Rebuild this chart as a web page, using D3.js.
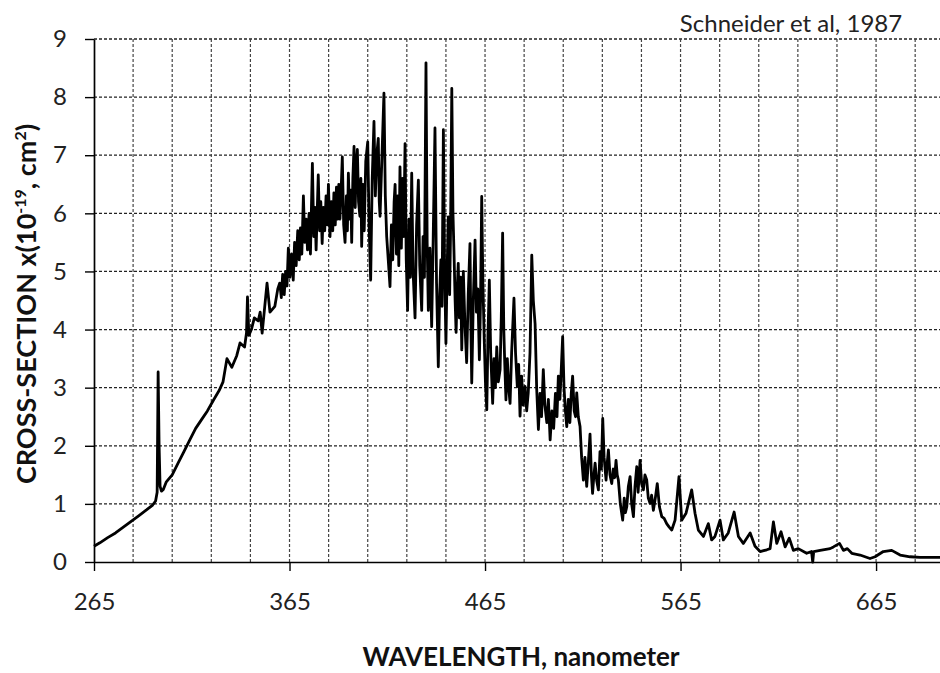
<!DOCTYPE html>
<html lang="en">
<head>
<meta charset="UTF-8">
<script src="https://cdnjs.cloudflare.com/ajax/libs/d3/7.9.0/d3.min.js"></script>
<title>NO3 cross-section</title>
<style>
    body { margin: 0; padding: 0; background: #fff; }
    svg { display: block; font-family: Lato, "Open Sans", sans-serif; }
</style>
</head>
<body>
<svg id="chart" width="940" height="673"></svg>
<script>
// [wavelength nm, cross-section 1e-19 cm2]
const risePart = [
    [265, 0.27], [268, 0.33], [272, 0.42], [276, 0.5], [280, 0.6], [284, 0.7], [288, 0.8], [292, 0.9],
    [295, 0.98], [296.5, 1.05], [297.3, 1.2], [297.8, 3.27], [298.3, 2.0], [298.8, 1.3], [299.5, 1.22],
    [300.5, 1.25], [302, 1.38], [305, 1.5], [308, 1.7], [311, 1.9], [314, 2.1], [317, 2.3], [320, 2.45],
    [323, 2.6], [326, 2.78], [329, 2.95], [331, 3.1], [333, 3.5], [335.5, 3.35], [338, 3.55], [339.7, 3.77],
    [342, 3.7], [343, 3.94], [343.5, 4.56], [344.2, 3.9], [345.5, 4.0], [347, 4.2], [349, 4.15], [350, 4.3],
    [351, 3.94], [353.5, 4.8], [355, 4.3], [357.5, 4.4], [359, 4.7]
];
const peakPart = [
    [360, 4.8], [360.8, 4.55], [361.5, 4.95], [362.3, 4.6], [363, 5.0], [363.7, 4.75], [364.4, 5.4],
    [365.2, 4.9], [366, 5.3], [366.9, 4.85], [367.6, 5.5], [368.4, 5.1], [369.2, 5.7], [370, 5.2],
    [370.6, 5.75], [371.3, 5.3], [372.1, 6.3], [372.8, 5.5], [373.5, 5.9], [374.2, 5.37], [375, 6.0],
    [375.7, 5.3], [376.7, 6.86], [377.4, 5.6], [378, 6.1], [378.6, 5.37], [379.7, 6.66], [380.4, 5.7],
    [381, 6.2], [381.7, 5.48], [382.3, 6.1], [383, 5.7], [383.7, 6.3], [384.4, 5.8], [384.9, 6.5],
    [385.7, 5.6], [386.4, 6.2], [387.1, 5.7], [387.7, 6.35], [388.4, 5.8], [389, 6.45], [389.6, 5.9],
    [390.2, 6.5], [390.8, 5.9], [391.4, 6.4], [392, 6.97], [392.7, 5.8], [393.4, 5.5], [394.1, 6.3],
    [394.6, 5.7], [395.1, 6.69], [395.8, 5.9], [396.3, 6.4], [396.8, 5.5], [397.4, 6.6], [398, 7.15],
    [398.6, 6.1], [399.1, 6.8], [399.7, 7.1], [400.3, 6.2], [401, 5.95], [401.5, 6.6], [401.9, 5.43],
    [402.6, 6.5], [403.2, 5.7], [404, 6.9], [405, 7.23], [405.7, 5.8], [406.5, 4.85], [407.3, 6.6],
    [408.2, 7.58], [408.9, 6.3], [409.6, 7.0], [410.4, 7.29], [410.9, 6.2], [411.3, 5.95], [412.2, 6.9],
    [413.3, 8.07], [414, 6.3], [414.7, 5.6], [415.5, 5.2], [416.4, 4.74], [417.1, 5.8], [417.8, 5.2],
    [418.5, 6.2], [419, 6.5], [419.7, 5.3], [420.3, 6.3], [420.9, 5.1], [421.5, 6.8], [422.2, 5.4],
    [422.8, 6.6], [423.4, 5.6], [424.1, 7.2], [424.7, 5.2], [425.4, 4.33], [426.1, 5.9], [426.8, 4.9],
    [427.5, 6.69], [428.2, 5.0], [428.7, 4.6], [429.2, 4.2], [430, 5.8], [430.9, 6.57], [431.6, 5.1],
    [432.6, 4.33], [433.3, 5.6], [434, 4.9], [434.8, 8.59], [435.4, 5.5], [436, 4.33], [436.8, 5.4],
    [437.7, 4.05], [438.5, 5.6], [439.4, 7.47], [440.2, 4.8], [441.1, 3.36], [441.8, 4.6], [442.4, 5.2],
    [443, 4.4], [443.7, 7.44], [444.3, 5.1], [445, 3.76], [445.6, 5.0], [446.2, 5.94], [446.9, 4.6],
    [447.4, 5.8], [448, 8.15], [448.6, 6.0], [449.1, 5.37], [449.7, 4.5], [450.2, 3.95], [450.8, 4.7],
    [451.3, 5.14], [451.9, 4.2], [452.5, 4.9], [453.1, 3.65], [453.9, 5.0], [454.7, 4.1], [455.6, 3.43],
    [456.4, 4.6], [457.3, 5.48], [457.7, 4.2], [458.2, 3.08], [459, 4.5], [459.9, 5.54], [460.6, 4.3],
    [461.3, 4.7], [462.1, 3.48], [462.7, 4.5], [463.3, 6.29], [463.9, 4.8], [464.6, 3.82], [465.2, 3.1],
    [465.9, 2.62], [466.5, 3.9], [467.2, 4.85], [467.9, 3.6], [468.9, 2.73], [469.6, 3.5], [470.3, 3.0],
    [471, 3.7], [471.8, 3.1], [472.7, 3.31], [473.3, 4.2], [474, 5.66], [474.6, 4.0], [475.1, 3.4],
    [475.7, 2.79], [476.4, 3.5], [477.1, 3.0], [477.8, 2.73], [478.6, 3.6], [479.8, 4.54], [480.6, 3.6],
    [481.5, 3.02], [482.2, 3.4], [482.9, 2.51], [483.7, 3.2], [484.5, 2.7], [485.5, 3.02], [486.3, 2.6],
    [487.1, 2.91], [488, 3.6], [488.9, 5.28], [489.7, 4.5], [490.6, 4.1], [491.4, 3.0], [492.3, 2.28],
    [493.1, 2.9], [493.9, 2.5], [494.8, 3.31], [495.6, 2.7], [496.6, 2.4], [497.4, 2.8], [498.3, 2.1],
    [499.2, 2.6], [500.1, 2.3], [501, 2.9], [501.8, 2.5], [502.5, 3.2], [503.3, 2.8], [504.1, 3.4],
    [504.7, 3.88], [505.4, 3.0], [506.1, 2.6], [506.8, 2.33], [507.6, 2.8], [508.4, 2.4], [509.1, 2.9],
    [509.8, 3.2], [510.6, 2.6], [511.3, 2.5], [511.9, 2.91], [512.7, 2.5]
];
const tailPart = [
    [513.6, 2.33], [514.4, 1.8], [515.3, 1.41], [516.1, 1.8], [517, 1.3], [517.8, 1.7], [518.7, 2.2],
    [519.4, 1.5], [520, 1.18], [520.7, 1.5], [521.3, 1.7], [522.1, 1.4], [523, 1.24], [523.8, 1.9],
    [524.5, 1.6], [525.2, 2.47], [525.9, 1.8], [526.9, 1.41], [527.5, 1.7], [528.1, 1.93], [528.9, 1.5],
    [529.8, 1.35], [530.6, 1.6], [531.3, 1.45], [532, 1.75], [532.6, 1.5], [533.2, 1.41], [534.2, 1.0],
    [535.4, 0.72], [536.2, 1.1], [536.8, 0.85], [537.5, 0.95], [538.3, 1.3], [539.2, 1.47], [540, 1.0],
    [540.9, 0.78], [541.7, 1.3], [542.6, 1.64], [543.3, 1.2], [544.3, 1.75], [545.1, 1.35], [546, 1.24],
    [546.8, 1.5], [547.7, 1.41], [548.5, 1.1], [549.4, 1.01], [550.2, 1.15], [551.1, 0.89], [552.1, 1.1],
    [553.1, 1.35], [554.2, 0.95], [555.4, 0.78], [556.6, 0.75], [557.9, 0.66], [559.2, 0.6], [560.5, 0.55],
    [562.2, 0.72], [564.2, 1.47], [565.6, 0.72], [567.8, 0.84], [570.7, 1.24], [572.4, 0.84], [574.1, 0.55],
    [576.7, 0.44], [579.2, 0.66], [580.9, 0.38], [582.6, 0.44], [585.2, 0.72], [586.9, 0.38], [589.4, 0.5],
    [592.4, 0.86], [594.6, 0.44], [597.1, 0.32], [600.6, 0.5], [603.1, 0.27], [605.7, 0.18], [609.1, 0.21],
    [610.8, 0.23], [612.5, 0.69], [614.2, 0.32], [616.4, 0.52], [618.5, 0.26], [620.6, 0.41], [622.7, 0.2],
    [625.2, 0.23], [629.5, 0.15], [632, 0.18], [632.6, 0.0], [633.1, 0.18], [636.4, 0.2], [641.5, 0.23],
    [643.2, 0.26], [646.3, 0.32], [648.3, 0.2], [650.3, 0.23], [652.6, 0.15], [656.8, 0.12], [661.9, 0.06],
    [664.5, 0.09], [668.7, 0.18], [673, 0.2], [677.3, 0.12], [682.4, 0.09], [687.5, 0.08], [697.7, 0.08]
];
const xTickLabels = [265, 365, 465, 565, 665];
const xGrid = d3.range(285, 700, 20);
const yTicks = [0, 1, 2, 3, 4, 5, 6, 7, 8, 9];

const svg = d3.select("#chart");
const x = d3.scaleLinear().domain([265, 697.7]).range([94, 940]);
const y = d3.scaleLinear().domain([0, 9]).range([562, 39]);

// grid
svg.append("g").selectAll("line").data(yTicks.slice(1)).join("line")
    .attr("x1", 94).attr("x2", 940)
    .attr("y1", d => y(d)).attr("y2", d => y(d))
    .attr("stroke", "#222").attr("stroke-width", 1.3).attr("stroke-dasharray", "3,2");
svg.append("g").selectAll("line").data(xGrid).join("line")
    .attr("x1", d => x(d)).attr("x2", d => x(d))
    .attr("y1", y(9)).attr("y2", y(0))
    .attr("stroke", "#444").attr("stroke-width", 1.2).attr("stroke-dasharray", "3,2");

// axes
const xAxis = svg.append("g").attr("transform", `translate(0,${y(0)})`)
    .call(d3.axisBottom(x).tickValues(xTickLabels).tickSize(9).tickPadding(22).tickSizeOuter(0));
const yAxis = svg.append("g").attr("transform", `translate(${x(265)},0)`)
    .call(d3.axisLeft(y).tickValues(yTicks).tickSize(9).tickPadding(18).tickSizeOuter(0));
[xAxis, yAxis].forEach(g => {
    g.select(".domain").attr("stroke", "#000").attr("stroke-width", 1.7);
    g.selectAll(".tick line").attr("stroke", "#000").attr("stroke-width", 1.4);
    g.selectAll(".tick text").attr("font-size", 24).attr("fill", "#222")
        .attr("font-family", "Lato, sans-serif");
});

// curve
const spectrum = risePart.concat(peakPart, tailPart);
svg.append("path").datum(spectrum)
    .attr("fill", "none").attr("stroke", "#000").attr("stroke-width", 2.8)
    .attr("stroke-linejoin", "round")
    .attr("d", d3.line().x(d => x(d[0])).y(d => y(d[1])));

// titles
svg.append("text").attr("x", 521).attr("y", 666).attr("text-anchor", "middle")
    .attr("font-size", 26).attr("font-weight", "bold").attr("fill", "#111")
    .text("WAVELENGTH, nanometer");

const yt = svg.append("text").attr("transform", "translate(36,304) rotate(-90)")
    .attr("text-anchor", "middle").attr("font-size", 27).attr("font-weight", "bold").attr("fill", "#111");
yt.append("tspan").text("CROSS-SECTION x(10");
yt.append("tspan").attr("dy", -10).attr("font-size", 16).text("-19");
yt.append("tspan").attr("dy", 10).text(", cm");
yt.append("tspan").attr("dy", -10).attr("font-size", 16).text("2");
yt.append("tspan").attr("dy", 10).text(")");

svg.append("text").attr("x", 791).attr("y", 32).attr("text-anchor", "middle")
    .attr("font-size", 24).attr("fill", "#222").text("Schneider et al, 1987");
</script>
</body>
</html>
